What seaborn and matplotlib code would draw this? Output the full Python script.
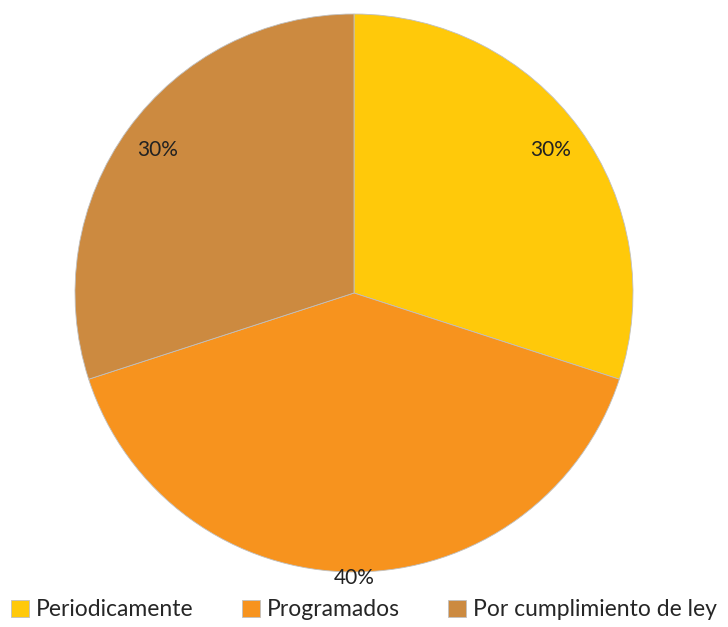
import matplotlib
matplotlib.use('Agg')
import matplotlib.pyplot as plt
import numpy as np
import seaborn as sns

# data
categories = ['Periodicamente', 'Programados', 'Por cumplimiento de ley']
shares = [30, 40, 30]
colors = ['#FFC90A', '#F7931E', '#CC8A40']

sns.set_theme(style='white')
plt.rcParams['font.family'] = ['Lato', 'DejaVu Sans']

fig = plt.figure(figsize=(7.28, 6.27), dpi=100)
ax = fig.add_axes([75 / 728, (627 - 572) / 627, 558 / 728, 558 / 627])

wedges, texts, autotexts = ax.pie(
    shares, colors=colors, startangle=90, counterclock=False,
    autopct='%1.0f%%', pctdistance=0.87,
    wedgeprops=dict(linewidth=0.6, edgecolor='#C0C0C0'),
    textprops=dict(fontsize=15, color='#222222'))

# the big slice label sits on the rim
w = wedges[1]
mid = np.deg2rad((w.theta1 + w.theta2) / 2)
autotexts[1].set_position((1.02 * np.cos(mid), 1.02 * np.sin(mid)))

ax.set_xlim(-1, 1)
ax.set_ylim(-1, 1)
ax.set_aspect('equal')
ax.axis('off')

fig.legend(wedges, categories, loc='center', bbox_to_anchor=(0.5, 1 - 610 / 627),
           ncol=3, frameon=False, fontsize=16.5, handlelength=0.8, handleheight=0.8,
           handletextpad=0.3, columnspacing=2.1, borderaxespad=0)

fig.savefig('out.png', dpi=100)
